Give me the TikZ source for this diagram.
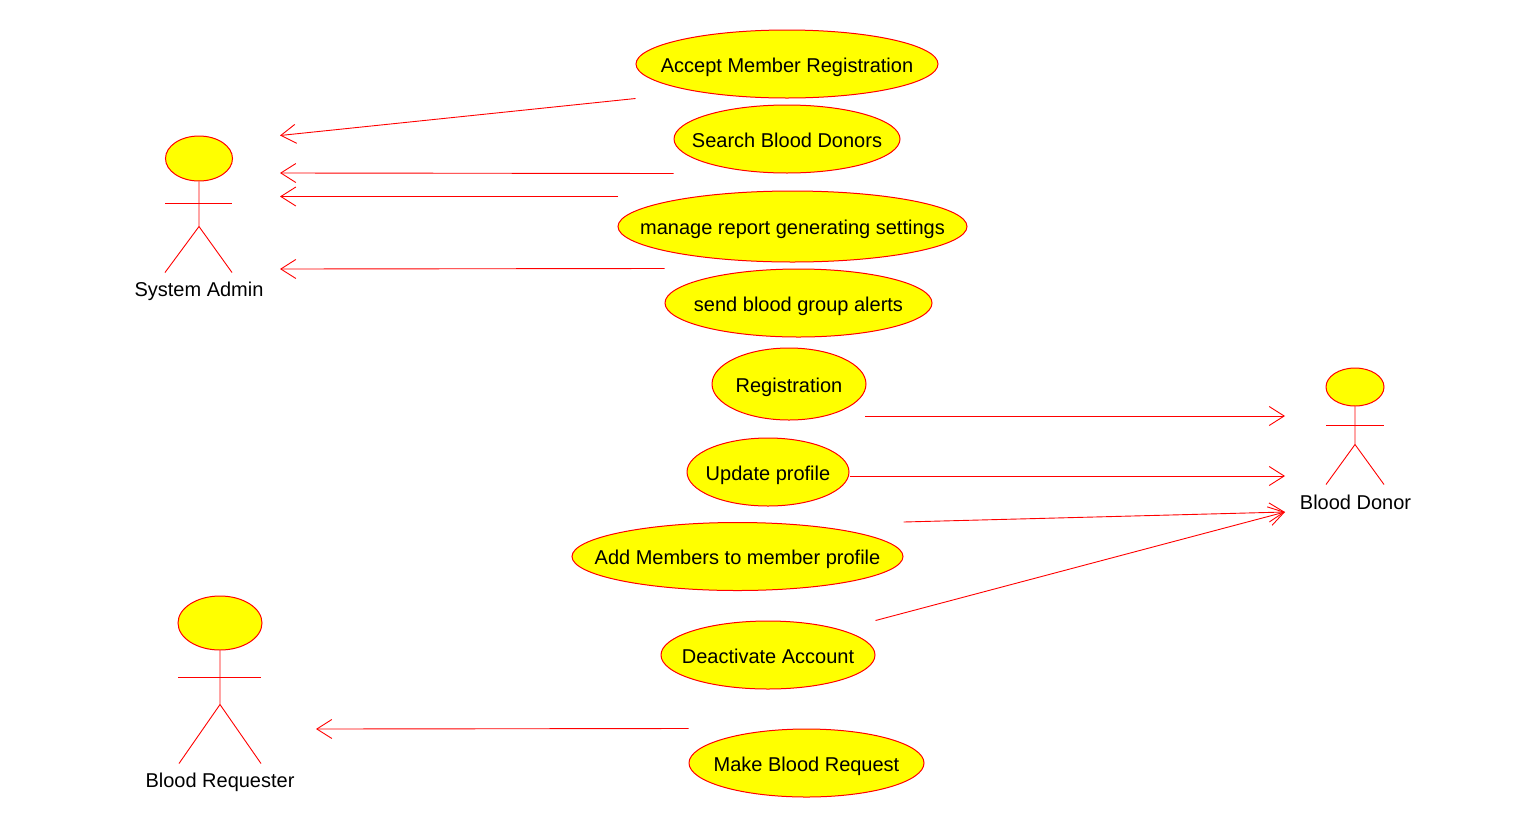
\documentclass[tikz,border=0pt]{standalone}
\usepackage{fontspec}
\setmainfont{Liberation Sans}
\usetikzlibrary{shapes.geometric, arrows.meta}
\definecolor{usered}{RGB}{255,0,0}
\definecolor{useyellow}{RGB}{255,255,0}
\tikzset{
  usecase/.style={ellipse, draw=usered, fill=useyellow, line width=1pt, inner xsep=-32pt, inner ysep=0pt,
                  text height=16.5pt, text depth=0pt, minimum height=68pt,
                  font=\fontsize{20}{24}\selectfont},
  head/.style={ellipse, draw=usered, fill=useyellow, line width=1pt, inner sep=0pt},
  limb/.style={draw=usered, line width=0.9pt},
  actorname/.style={inner sep=0pt, text height=16.5pt, text depth=0pt, font=\fontsize{20}{24}\selectfont},
  link/.style={draw=usered, line width=0.9pt, ->, >={Straight Barb[length=15pt, width=19pt, line width=0.9pt]}}
}

\begin{document}
\begin{tikzpicture}[x=1pt, y=-1pt]
      \useasboundingbox (0,0) rectangle (1517,828);

      % Use cases
      \node[usecase, minimum width=302pt] (accept) at (787,64) {Accept Member Registration};
      \node[usecase, minimum width=226pt] (search) at (787,139) {Search Blood Donors};
      \node[usecase, minimum width=349pt, minimum height=71pt] (manage) at (792.5,226.5) {manage report generating settings};
      \node[usecase, minimum width=267pt] (send) at (798.5,303) {send blood group alerts};
      \node[usecase, minimum width=154pt, minimum height=72pt] (registration) at (789,384) {Registration};
      \node[usecase, minimum width=162pt] (update) at (768,472) {Update profile};
      \node[usecase, minimum width=331pt] (addmembers) at (737.5,556.5) {Add Members to member profile};
      \node[usecase, minimum width=214pt] (deactivate) at (768,655) {Deactivate Account};
      \node[usecase, minimum width=235pt] (request) at (806.5,763) {Make Blood Request};

      % System Admin
      \node[head, minimum width=67pt, minimum height=45pt] (adminhead) at (199,158.5) {};
      \draw[limb] (adminhead.south) -- ++(0,45) coordinate (adminhip) -- ++(-34,46);
      \draw[limb] (adminhip) -- ++(33,46);
      \draw[limb] (165,203) -- (232,203);
      \node[actorname] (adminname) at (199,288) {System Admin};

      % Blood Donor
      \node[head, minimum width=58pt, minimum height=38pt] (donorhead) at (1355,387) {};
      \draw[limb] (donorhead.south) -- ++(0,38) coordinate (donorhip) -- ++(-29,40);
      \draw[limb] (donorhip) -- ++(29,40);
      \draw[limb] (1326,425.5) -- (1384,425.5);
      \node[actorname] (donorname) at (1355.5,501) {Blood Donor};

      % Blood Requester
      \node[head, minimum width=84pt, minimum height=54pt] (requesterhead) at (220,623) {};
      \draw[limb] (requesterhead.south) -- ++(0,54) coordinate (requesterhip) -- ++(-41,59);
      \draw[limb] (requesterhip) -- ++(41,59);
      \draw[limb] (178,677.5) -- (261,677.5);
      \node[actorname] (requestername) at (220,779) {Blood Requester};

      % Free ends at the actors
      \coordinate (admintop) at (280,135.5);
      \coordinate (adminsearch) at (280,173);
      \coordinate (adminmanage) at (280,196.5);
      \coordinate (adminsend) at (280,269);
      \coordinate (donortop) at (1285,416);
      \coordinate (donormid) at (1285,476);
      \coordinate (donorlow) at (1285,512);
      \coordinate (requesterin) at (316,729);
      \coordinate (manageout) at (618,196.5);
      \coordinate (registrationout) at (865,416);

      % Connectors
      \draw[link] (accept.west |- accept.south) -- (admintop);
      \draw[link] (search.west |- search.south) -- (adminsearch);
      \draw[link] (manageout) -- (adminmanage);
      \draw[link] (send.west |- send.north) -- (adminsend);
      \draw[link] (registrationout) -- (donortop);
      \draw[link] (update.east |- donormid) -- (donormid);
      \draw[link] (addmembers.east |- addmembers.north) -- (donorlow);
      \draw[link] (deactivate.east |- deactivate.north) -- (donorlow);
      \draw[link] (request.west |- request.north) -- (requesterin);
\end{tikzpicture}
\end{document}
